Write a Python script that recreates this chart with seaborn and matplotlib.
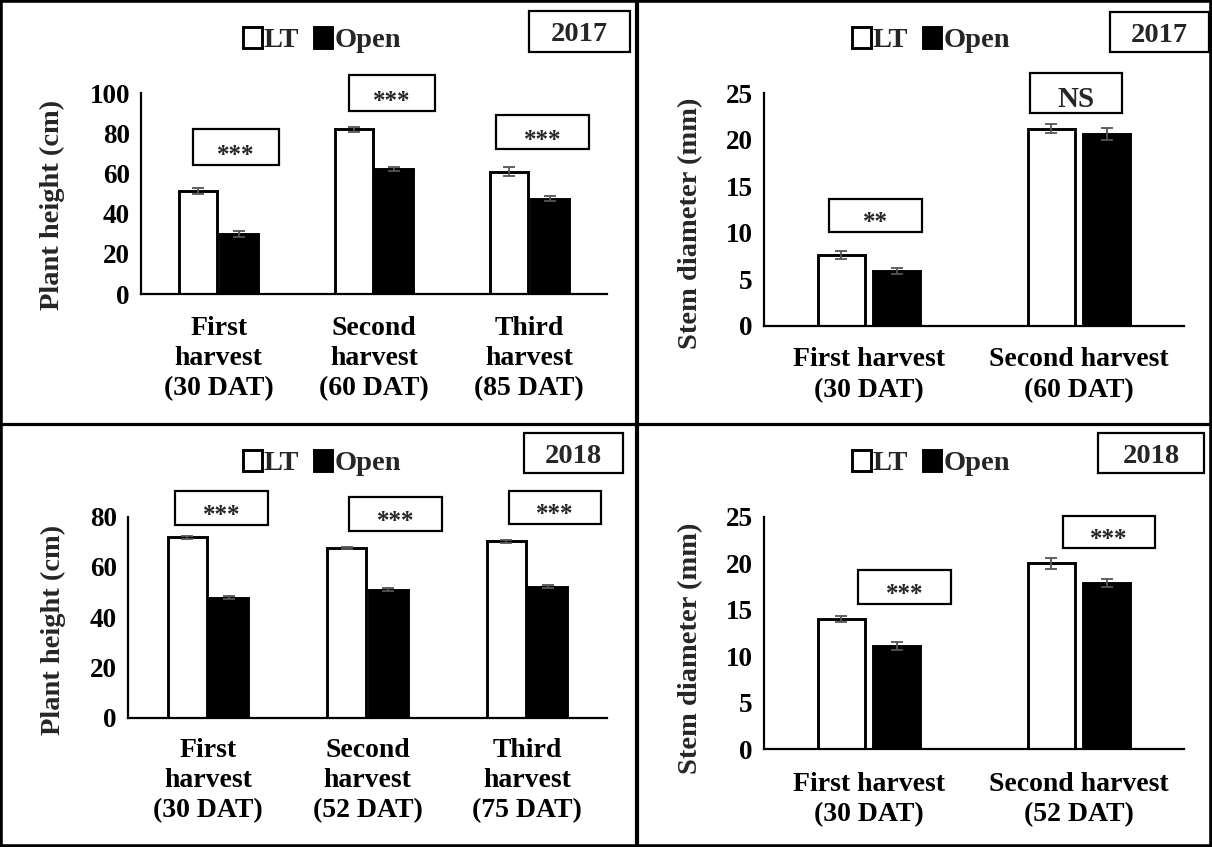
import numpy as np
import pandas as pd
import matplotlib
matplotlib.use("Agg")
import matplotlib.pyplot as plt
from matplotlib.patches import Rectangle, Patch
from matplotlib.lines import Line2D
import seaborn as sns

# ------------------------------------------------------------------ data
treatments = ["LT", "Open"]

h17_categories = ["First\nharvest\n(30 DAT)", "Second\nharvest\n(60 DAT)", "Third\nharvest\n(85 DAT)"]
h17_lt = [51.5, 82.0, 61.0]
h17_open = [30.0, 62.3, 47.5]
h17_lt_err = [1.5, 1.2, 2.3]
h17_open_err = [1.5, 0.8, 1.2]
h17_sig = ["***", "***", "***"]

d17_categories = ["First harvest\n(30 DAT)", "Second harvest\n(60 DAT)"]
d17_lt = [7.6, 21.2]
d17_open = [5.9, 20.6]
d17_lt_err = [0.4, 0.45]
d17_open_err = [0.35, 0.65]
d17_sig = ["**", "NS"]

h18_categories = ["First\nharvest\n(30 DAT)", "Second\nharvest\n(52 DAT)", "Third\nharvest\n(75 DAT)"]
h18_lt = [71.8, 67.6, 70.2]
h18_open = [47.8, 50.8, 52.0]
h18_lt_err = [0.5, 0.5, 0.5]
h18_open_err = [0.6, 0.6, 0.6]
h18_sig = ["***", "***", "***"]

d18_categories = ["First harvest\n(30 DAT)", "Second harvest\n(52 DAT)"]
d18_lt = [14.0, 20.0]
d18_open = [11.1, 17.9]
d18_lt_err = [0.35, 0.6]
d18_open_err = [0.45, 0.45]
d18_sig = ["***", "***"]

years = ["2017", "2017", "2018", "2018"]
ylabels = ["Plant height (cm)", "Stem diameter (mm)", "Plant height (cm)", "Stem diameter (mm)"]

# ------------------------------------------------------------------ style
sns.set_style("white")
FONT = ["Liberation Serif", "DejaVu Serif"]
plt.rcParams["font.family"] = FONT
plt.rcParams["font.weight"] = "bold"
plt.rcParams["axes.labelweight"] = "bold"

W, H = 1212, 847
fig = plt.figure(figsize=(W / 100, H / 100), dpi=100)
fig.patch.set_facecolor("white")


def fr(x0, x1, ytop, ybot):
    return [x0 / W, 1 - ybot / H, (x1 - x0) / W, (ybot - ytop) / H]


panels = [
    dict(cats=h17_categories, lt=h17_lt, op=h17_open, lte=h17_lt_err, ope=h17_open_err, sig=h17_sig,
         rect=fr(141, 607, 93.3, 294), ylim=(0, 100), step=20, width=0.52, gap=0.06,
         boxes=[(-0.165, 0.389, 64.4, 82.3), (0.84, 1.393, 91.2, 109.1), (1.786, 2.385, 72.1, 89.2)],
         ylab=(-0.19, 0.443), leg=(322, 40), ybox=(529, 11, 630, 52), xpad=16, ls=1.25),
    dict(cats=d17_categories, lt=d17_lt, op=d17_open, lte=d17_lt_err, ope=d17_open_err, sig=d17_sig,
         rect=fr(764, 1184, 93.3, 325.7), ylim=(0, 25), step=5, width=0.525, gap=0.14,
         boxes=[(-0.19, 0.254, 10.1, 13.6), (0.765, 1.204, 22.9, 27.2)],
         ylab=(-0.174, 0.44), leg=(931, 40), ybox=(1110, 12, 1209, 52), xpad=15, ls=1.35),
    dict(cats=h18_categories, lt=h18_lt, op=h18_open, lte=h18_lt_err, ope=h18_open_err, sig=h18_sig,
         rect=fr(128, 607, 516.7, 717.5), ylim=(0, 80), step=20, width=0.52, gap=0.06,
         boxes=[(-0.206, 0.377, 76.6, 90.4), (0.884, 1.466, 74.4, 87.8), (1.886, 2.462, 77.0, 90.4)],
         ylab=(-0.155, 0.438), leg=(322, 463), ybox=(524, 433, 623, 473), xpad=15, ls=1.25),
    dict(cats=d18_categories, lt=d18_lt, op=d18_open, lte=d18_lt_err, ope=d18_open_err, sig=d18_sig,
         rect=fr(764, 1184, 516.7, 749.3), ylim=(0, 25), step=5, width=0.525, gap=0.14,
         boxes=[(-0.052, 0.39, 15.6, 19.3), (0.924, 1.362, 21.6, 25.1)],
         ylab=(-0.174, 0.433), leg=(931, 463), ybox=(1098, 433, 1204, 473), xpad=16, ls=1.3),
]

for i, p in enumerate(panels):
    ax = fig.add_axes(p["rect"])
    n = len(p["cats"])
    df = pd.DataFrame({
        "harvest": list(p["cats"]) * 2,
        "treatment": [treatments[0]] * n + [treatments[1]] * n,
        "value": list(p["lt"]) + list(p["op"]),
    })
    sns.barplot(data=df, x="harvest", y="value", hue="treatment", order=p["cats"],
                hue_order=treatments, palette={"LT": "white", "Open": "black"},
                saturation=1, edgecolor="black", linewidth=2.1, width=p["width"], gap=p["gap"],
                errorbar=None, legend=False, ax=ax)
    for cont, errs in zip(ax.containers, [p["lte"], p["ope"]]):
        xs = [b.get_x() + b.get_width() / 2 for b in cont]
        ys = [b.get_height() for b in cont]
        ax.errorbar(xs, ys, yerr=errs, fmt="none", ecolor="#555555", elinewidth=1.3,
                    capsize=4, capthick=1.3, zorder=5)

    ax.set_xlim(-0.5, n - 0.5)
    ax.set_ylim(*p["ylim"])
    ax.set_yticks(np.arange(p["ylim"][0], p["ylim"][1] + 0.1, p["step"]))
    ax.set_xlabel("")
    ax.set_ylabel(ylabels[i], fontsize=20.5, fontweight="bold", va="center")
    ax.yaxis.set_label_coords(*p["ylab"])
    ax.set_facecolor("none")
    for s in ["top", "right"]:
        ax.spines[s].set_visible(False)
    for s in ["left", "bottom"]:
        ax.spines[s].set_color("black")
        ax.spines[s].set_linewidth(1.6)
    ax.tick_params(axis="y", direction="out", length=5, width=1.6, pad=3, labelsize=19.5, colors="black")
    ax.tick_params(axis="x", length=0, pad=p["xpad"], labelsize=20, colors="black")
    for lab in ax.get_xticklabels():
        lab.set_linespacing(p["ls"])
        lab.set_fontweight("bold")
    for lab in ax.get_yticklabels():
        lab.set_fontweight("bold")

    # significance boxes
    for (x0, x1, y0, y1), s in zip(p["boxes"], p["sig"]):
        ax.add_patch(Rectangle((x0, y0), x1 - x0, y1 - y0, fill=True, facecolor="white",
                               edgecolor="black", linewidth=1.6, clip_on=False, zorder=6))
        off = 4 if s == "NS" else 2
        ax.annotate(s, xy=((x0 + x1) / 2, y0), xytext=(0, off), textcoords="offset points",
                    ha="center", va="baseline", fontsize=21 if s == "NS" else 18,
                    fontweight="bold", annotation_clip=False, zorder=7)

    # legend
    handles = [Patch(facecolor="white", edgecolor="black", linewidth=2.1),
               Patch(facecolor="black", edgecolor="black", linewidth=2.1)]
    fig.legend(handles=handles, labels=treatments, loc="center",
               bbox_to_anchor=(p["leg"][0] / W, 1 - p["leg"][1] / H), ncol=2, frameon=False,
               handlelength=0.65, handleheight=0.8, handletextpad=0.08, columnspacing=0.5,
               prop=dict(family=FONT, weight="bold", size=20.5))

    # year box
    bx0, by0, bx1, by1 = p["ybox"]
    fig.add_artist(Rectangle((bx0 / W, 1 - by1 / H), (bx1 - bx0) / W, (by1 - by0) / H,
                             transform=fig.transFigure, facecolor="white", edgecolor="black",
                             linewidth=1.6))
    fig.text((bx0 + bx1) / 2 / W, 1 - ((by0 + by1) / 2 + 3) / H, years[i], ha="center", va="center",
             fontsize=20.5, fontweight="bold")

# panel dividers and outer frame
fig.add_artist(Line2D([637 / W, 637 / W], [0, 1], transform=fig.transFigure, color="black", linewidth=3))
fig.add_artist(Line2D([0, 1], [1 - 424 / H, 1 - 424 / H], transform=fig.transFigure, color="black", linewidth=2.3))
fig.add_artist(Rectangle((0, 0), 1, 1, transform=fig.transFigure, fill=False, edgecolor="black", linewidth=4))

fig.savefig("out.png", dpi=100)
